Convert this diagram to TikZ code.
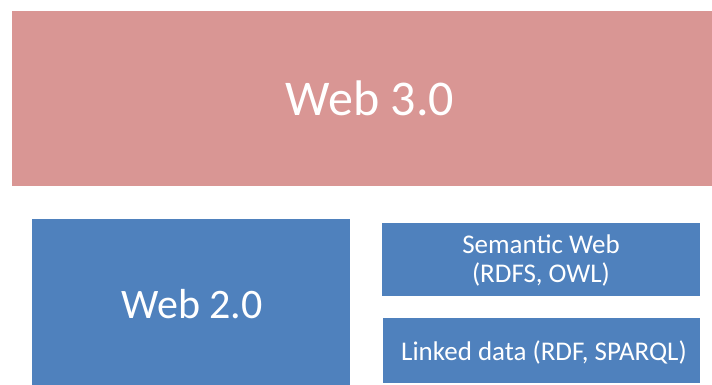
\documentclass[tikz,border=0pt]{standalone}
\usepackage{fontspec}
\setmainfont{Carlito}
\definecolor{pinkbox}{HTML}{D99694}
\definecolor{bluebox}{HTML}{4F81BD}
\begin{document}
\begin{tikzpicture}[x=1pt,y=-1pt,
  box/.style={inner sep=0pt, outer sep=0pt},
  lbl/.style={text=white, align=center, inner sep=0pt}]
\useasboundingbox (0,0) rectangle (712,385);
\fill[pinkbox] (12,11) rectangle (712,186);
\fill[bluebox] (32,219) rectangle (350,385);
\fill[bluebox] (382,223) rectangle (700,296);
\fill[bluebox] (383,318) rectangle (700,383);
\node[lbl, font=\fontsize{50}{56}\selectfont] (w3) at (370,98) {Web 3.0};
\node[lbl, font=\fontsize{42}{48}\selectfont] (w2) at (192,304) {Web 2.0};
\node[lbl, font=\fontsize{27}{29}\selectfont] (sw) at (541,260) {Semantic Web\\(RDFS, OWL)};
\node[lbl, font=\fontsize{27}{30}\selectfont] (ld) at (544,352) {Linked data (RDF, SPARQL)};
\end{tikzpicture}
\end{document}
